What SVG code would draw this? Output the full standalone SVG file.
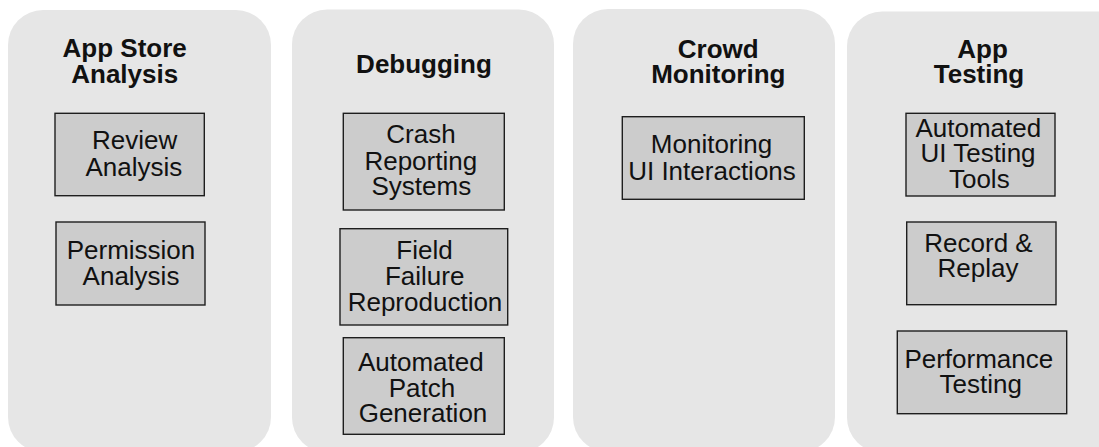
<svg xmlns="http://www.w3.org/2000/svg" width="1099" height="447" viewBox="0 0 1099 447">
<style>
.panel{fill:#e6e6e6;stroke:none}
.box{fill:#cccccc;stroke:#1e1e1e;stroke-width:1.4}
.title{font-family:"Liberation Sans",Arial,sans-serif;font-weight:bold;font-size:26px;fill:#111;text-anchor:middle}
.lbl{font-family:"Liberation Sans",Arial,sans-serif;font-size:26px;fill:#111;text-anchor:middle}
</style>
<rect width="1099" height="447" fill="#ffffff"/>
<g id="panel-app-store-analysis">
<rect class="panel" x="8" y="10" width="263" height="442" rx="35"/>
<text class="title" x="124.7" y="56.7">App Store</text>
<text class="title" x="124.7" y="83.3">Analysis</text>
</g>
<g id="panel-debugging">
<rect class="panel" x="292" y="9.5" width="262" height="443" rx="35"/>
<text class="title" x="424" y="73.3">Debugging</text>
</g>
<g id="panel-crowd-monitoring">
<rect class="panel" x="573" y="9" width="262" height="443" rx="35"/>
<text class="title" x="718.3" y="58.3">Crowd</text>
<text class="title" x="718.3" y="83.3">Monitoring</text>
</g>
<g id="panel-app-testing">
<rect class="panel" x="847" y="11.5" width="290" height="441" rx="35"/>
<text class="title" x="982.5" y="58.3">App</text>
<text class="title" x="979" y="83.3">Testing</text>
</g>
<g id="node-review-analysis">
<rect class="box" x="55" y="113.3" width="149.3" height="82.4"/>
<text class="lbl" x="134.7" y="149.3">Review</text>
<text class="lbl" x="133.8" y="175.7">Analysis</text>
</g>
<g id="node-permission-analysis">
<rect class="box" x="56" y="222" width="149" height="83"/>
<text class="lbl" x="131" y="258.8">Permission</text>
<text class="lbl" x="131" y="285">Analysis</text>
</g>
<g id="node-crash-reporting">
<rect class="box" x="343.3" y="113.3" width="161" height="96.7"/>
<text class="lbl" x="421" y="143.3">Crash</text>
<text class="lbl" x="420.8" y="169.5">Reporting</text>
<text class="lbl" x="421.3" y="195">Systems</text>
</g>
<g id="node-field-failure">
<rect class="box" x="340" y="228.7" width="167.7" height="96.3"/>
<text class="lbl" x="424.5" y="259.3">Field</text>
<text class="lbl" x="424.7" y="285">Failure</text>
<text class="lbl" x="425" y="310.5">Reproduction</text>
</g>
<g id="node-patch-generation">
<rect class="box" x="343.3" y="337.7" width="161" height="96.6"/>
<text class="lbl" x="420.8" y="371">Automated</text>
<text class="lbl" x="422" y="396.7">Patch</text>
<text class="lbl" x="423" y="421.7">Generation</text>
</g>
<g id="node-monitoring-ui">
<rect class="box" x="622.3" y="116.7" width="182" height="82.6"/>
<text class="lbl" x="711.5" y="153.3">Monitoring</text>
<text class="lbl" x="712" y="180">UI Interactions</text>
</g>
<g id="node-ui-testing-tools">
<rect class="box" x="906" y="113.3" width="149" height="82.7"/>
<text class="lbl" x="978.3" y="136.7">Automated</text>
<text class="lbl" x="978" y="162.3">UI Testing</text>
<text class="lbl" x="979.3" y="187.7">Tools</text>
</g>
<g id="node-record-replay">
<rect class="box" x="906.7" y="222" width="149.3" height="82.7"/>
<text class="lbl" x="978.5" y="251.7">Record &amp;</text>
<text class="lbl" x="978" y="276.7">Replay</text>
</g>
<g id="node-performance-testing">
<rect class="box" x="897.3" y="331" width="169.4" height="82.7"/>
<text class="lbl" x="978.8" y="368.3">Performance</text>
<text class="lbl" x="980.8" y="393.3">Testing</text>
</g>
<g id="connectors"></g>
</svg>
